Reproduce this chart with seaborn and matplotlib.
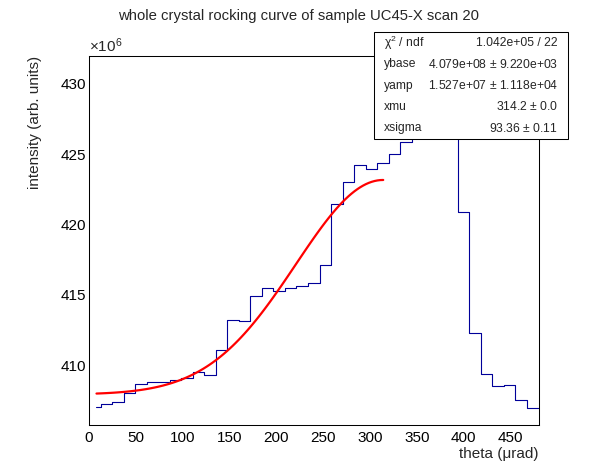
import numpy as np
import pandas as pd
import matplotlib.pyplot as plt
import seaborn as sns

# %% data (intensity in units of 1e6)
theta_edges = np.linspace(0, 480, 40)
theta_edges[0] = 8.0  # first bin only drawn from the fit start
intensity = [407.00, 407.20, 407.36, 408.00, 408.63, 408.78, 408.78, 408.90,
             409.10, 409.53, 409.29, 411.04, 413.23, 413.16, 414.93, 415.50,
             415.30, 415.45, 415.64, 415.85, 417.13, 421.46, 423.00, 424.22,
             423.92, 424.35, 425.00, 425.87, 428.20, 430.10, 430.80, 429.60,
             420.88, 412.31, 409.36, 408.49, 408.58, 407.52, 406.96]

# fit result (gaussian on a flat base)
ybase, yamp, xmu, xsigma = 407.9, 15.27, 314.2, 93.36
fit_start = 8.0
stat_names = ['$\\chi^{2}$ / ndf', 'ybase', 'yamp', 'xmu', 'xsigma']
stat_values = ['1.042e+05 / 22', '4.079e+08 $\\pm$ 9.220e+03',
               '1.527e+07 $\\pm$ 1.118e+04', '314.2 $\\pm$ 0.0', '93.36 $\\pm$ 0.11']

hist_df = pd.DataFrame({'theta': theta_edges,
                        'intensity': intensity + [intensity[-1]]})
fit_x = np.linspace(fit_start, xmu, 100)
fit_df = pd.DataFrame({'theta': fit_x,
                       'intensity': ybase + yamp * np.exp(-0.5 * ((fit_x - xmu) / xsigma) ** 2)})

# %% plot
sns.set_theme(style='white')
plt.rcParams['font.family'] = ['Liberation Sans', 'DejaVu Sans']
plt.rcParams['mathtext.default'] = 'regular'
plt.rcParams['axes.linewidth'] = 0.75

fig = plt.figure(figsize=(5.98, 4.74), dpi=100)
ax = fig.add_axes([89 / 598, 1 - 424.5 / 474, 449.5 / 598, 368.5 / 474])

sns.lineplot(data=hist_df, x='theta', y='intensity', drawstyle='steps-post',
             color='#000099', linewidth=0.8, estimator=None, ax=ax)
sns.lineplot(data=fit_df, x='theta', y='intensity', color='#ff0000',
             linewidth=1.6, estimator=None, ax=ax)

vmin, vmax = min(intensity), max(intensity)
margin = 0.05 * (vmax - vmin)
ax.set_xlim(0, 480)
ax.set_ylim(vmin - margin, vmax + margin)

ax.set_xticks(np.arange(0, 451, 50))
ax.set_xticks(np.arange(0, 481, 10), minor=True)
ax.set_yticks(np.arange(410, 431, 5))
ax.set_yticks(np.arange(406, 432, 1), minor=True)
ax.tick_params(axis='both', which='both', direction='in', colors='black',
               labelsize=11, width=0.75, top=False, right=False)
ax.tick_params(axis='x', which='major', length=7.5, pad=5)
ax.tick_params(axis='x', which='minor', length=3.8)
ax.tick_params(axis='y', which='major', length=10, pad=2)
ax.tick_params(axis='y', which='minor', length=5)
for sp in ax.spines.values():
    sp.set_color('black')
    sp.set_linewidth(0.75)

ax.set_xlabel('theta (μrad)', fontsize=11, loc='right')
ax.set_ylabel('intensity (arb. units)', fontsize=11, loc='top')
ax.xaxis.set_label_coords(1.0, -0.06)
ax.yaxis.set_label_coords(-0.105, 1.0)

ax.text(0, 1.004, '×10$^{6}$', transform=ax.transAxes, ha='left', va='bottom',
        fontsize=11)
fig.text(0.5, 1 - 16 / 474, 'whole crystal rocking curve of sample UC45-X scan 20',
         ha='center', va='center', fontsize=10.7)

# stats box
box = plt.Rectangle((374 / 598, 1 - 139 / 474), 194.3 / 598, 106.7 / 474,
                    transform=fig.transFigure, facecolor='white', edgecolor='black',
                    linewidth=0.75, clip_on=False, zorder=10)
ax.add_patch(box)
for i, (name, val) in enumerate(zip(stat_names, stat_values)):
    yc = 1 - (32.3 + 21.3 * (i + 0.5)) / 474
    ax.text(384 / 598, yc, name, transform=fig.transFigure, ha='left', va='center',
            fontsize=8.7, zorder=11)
    ax.text(558 / 598, yc, val, transform=fig.transFigure, ha='right', va='center',
            fontsize=8.7, zorder=11)

fig.savefig('out.png', dpi=100)
